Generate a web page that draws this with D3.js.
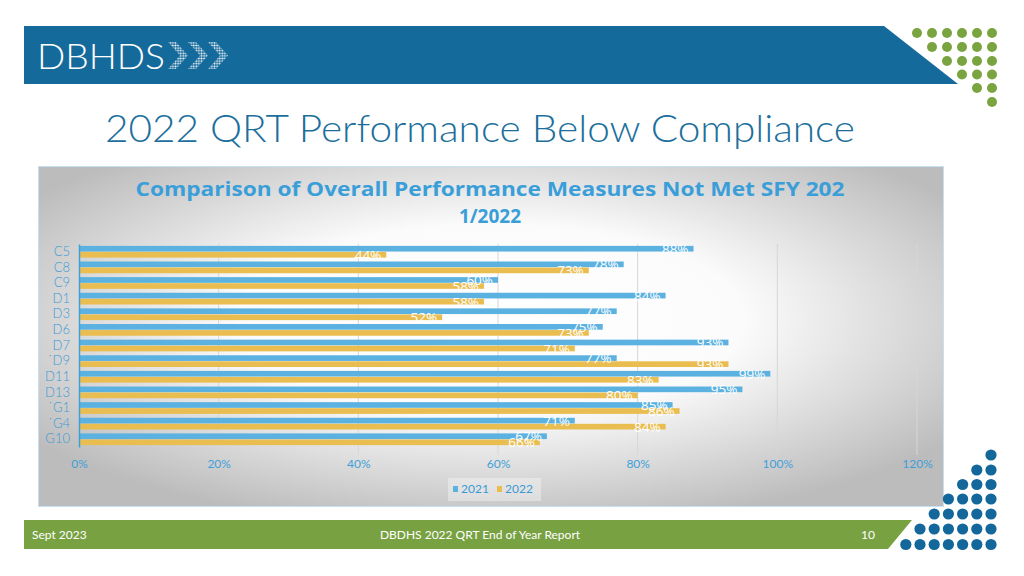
<!DOCTYPE html>
<html><head><meta charset="utf-8">
<script src="https://cdn.jsdelivr.net/npm/d3@7"></script>
<style>
html,body{margin:0;padding:0;background:#fff;}
svg{display:block;}
</style></head>
<body>
<svg id="c" width="1024" height="576"></svg>
<script>
const categories = ["C5","C8","C9","D1","D3","D6","D7","˙D9","D11","D13","˙G1","˙G4","G10"];
const series = ["2021","2022"];
const values2021 = [88,78,60,84,77,75,93,77,99,95,85,71,67];
const values2022 = [44,73,58,58,52,73,71,93,83,80,86,84,66];
const xTicks = [0,20,40,60,80,100,120];
const tickLabels = ["0%","20%","40%","60%","80%","100%","120%"];

const svg = d3.select("#c");
const defs = svg.append("defs");

// ---------- header ----------
svg.append("path").attr("d","M24,26 L884,26 L958,84 L24,84 Z").attr("fill","#156a9c");
svg.append("text").attr("x",37).attr("y",69).attr("fill","#fff")
  .attr("font-family","Lato, sans-serif").attr("font-weight",300)
  .attr("font-size",36).attr("textLength",128).attr("lengthAdjust","spacingAndGlyphs").text("DBHDS");
const pat = defs.append("pattern").attr("id","dots").attr("width",2.6).attr("height",2.6).attr("patternUnits","userSpaceOnUse");
pat.append("circle").attr("cx",1.3).attr("cy",1.3).attr("r",0.95).attr("fill","#fff");
[168,188,208].forEach(x0=>{
  svg.append("path").attr("d",`M${x0},42 L${x0+8},42 L${x0+20},55.5 L${x0+8},69 L${x0},69 L${x0+12},55.5 Z`).attr("fill","url(#dots)");
});
// green dots
const gStart=[917,932,947,962,977,992];
const gy=[33,47,61,74.5,88,102];
gy.forEach((y,r)=>{ for(let x=gStart[r]; x<=993; x+=15){ svg.append("circle").attr("cx",x).attr("cy",y).attr("r",5).attr("fill","#7aa43f"); } });

// title
svg.append("text").attr("x",105).attr("y",142).attr("fill","#1c6f9c")
  .attr("font-family","Lato, sans-serif").attr("font-weight",300).attr("font-size",37)
  .attr("textLength",750).attr("lengthAdjust","spacingAndGlyphs")
  .text("2022 QRT Performance Below Compliance");

// ---------- chart box ----------
const rg = defs.append("radialGradient").attr("id","bg").attr("cx","50%").attr("cy","45%").attr("r","62%");
rg.append("stop").attr("offset","0%").attr("stop-color","#ffffff");
rg.append("stop").attr("offset","45%").attr("stop-color","#fbfbfb");
rg.append("stop").attr("offset","100%").attr("stop-color","#bcbcbc");
svg.append("rect").attr("x",38.5).attr("y",166.5).attr("width",905).attr("height",340)
  .attr("fill","url(#bg)").attr("stroke","#c5e0f2").attr("stroke-width",1);

svg.append("text").attr("x",490).attr("y",196).attr("text-anchor","middle").attr("fill","#3a9ed9")
  .attr("font-family","Open Sans, sans-serif").attr("font-weight",700).attr("font-size",19)
  .attr("textLength",709).attr("lengthAdjust","spacingAndGlyphs")
  .text("Comparison of Overall Performance Measures Not Met SFY 202");
svg.append("text").attr("x",490).attr("y",223).attr("text-anchor","middle").attr("fill","#3a9ed9")
  .attr("font-family","Open Sans, sans-serif").attr("font-weight",700).attr("font-size",19)
  .text("1/2022");

const x = d3.scaleLinear().domain([0,120]).range([79,917]);
const y = d3.scaleBand().domain(categories).range([244,447]).paddingInner(0.25).paddingOuter(0.12);
const ys = d3.scaleBand().domain(series).range([0,y.bandwidth()]).paddingInner(0.06);
const colors = {"2021":"#5bb2e1","2022":"#e9bd4f"};

// gridlines
svg.append("g").selectAll("line").data(xTicks.slice(1)).join("line")
  .attr("x1",d=>x(d)).attr("x2",d=>x(d)).attr("y1",244).attr("y2",455)
  .attr("stroke","#d6d6d6").attr("stroke-width",1);

const rows = categories.map((c,i)=>({c, v:{"2021":values2021[i],"2022":values2022[i]}}));
const g = svg.append("g");
rows.forEach(r=>{
  series.forEach(s=>{
    const yy = y(r.c)+ys(s);
    g.append("rect").attr("x",x(0)).attr("y",yy).attr("width",x(r.v[s])-x(0)).attr("height",ys.bandwidth()).attr("fill",colors[s]);
  });
});
rows.forEach(r=>{
  series.forEach(s=>{
    const yy = y(r.c)+ys(s);
    g.append("text").attr("x",x(r.v[s])-5).attr("y",yy+ys.bandwidth()/2+5).attr("text-anchor","end")
      .attr("fill","#fff").attr("font-family","Open Sans, sans-serif").attr("font-size",13.5).text(r.v[s]+"%");
  });
});

// y axis
const yAxis = svg.append("g").attr("transform",`translate(${x(0)},0)`).call(d3.axisLeft(y).tickSize(0).tickPadding(9));
yAxis.select(".domain").attr("stroke","#3fa0d8").attr("stroke-width",1.5);
yAxis.selectAll("text").attr("fill","#3b9ad6").attr("font-family","Lato, sans-serif").attr("font-weight",300).attr("font-size",13);

// x axis labels
const xAxis = svg.append("g").attr("transform","translate(0,455)").call(d3.axisBottom(x).tickValues(xTicks).tickFormat((d,i)=>tickLabels[i]).tickSize(0).tickPadding(4));
xAxis.select(".domain").remove();
xAxis.selectAll("text").attr("fill","#3fa0d8").attr("font-family","Lato, sans-serif").attr("font-size",12);

// legend
svg.append("rect").attr("x",448).attr("y",478).attr("width",93).attr("height",23).attr("fill","#ffffff").attr("opacity",0.35);
const lg = svg.append("g");
[[453,"2021"],[497,"2022"]].forEach(([lx,s])=>{
  lg.append("rect").attr("x",lx).attr("y",486).attr("width",5).attr("height",6).attr("fill",colors[s]);
  lg.append("text").attr("x",lx+8).attr("y",493).attr("fill","#3b9ad6").attr("font-family","Lato, sans-serif").attr("font-size",12).text(s);
});

// ---------- footer ----------
svg.append("path").attr("d","M24,520 L912,520 L888,549 L24,549 Z").attr("fill","#78a142");
const ft = (tx,anchor,t)=>svg.append("text").attr("x",tx).attr("y",538.5).attr("text-anchor",anchor).attr("fill","#fff")
  .attr("font-family","Lato, sans-serif").attr("font-size",12).text(t);
ft(32,"start","Sept 2023");
ft(480,"middle","DBDHS 2022 QRT End of Year Report");
ft(868,"middle","10");

// blue dots
const by=[455,470,484.5,499,514,529,544.5];
by.forEach((yy,r)=>{ for(let i=0;i<=r;i++){ svg.append("circle").attr("cx",991-i*14.2).attr("cy",yy).attr("r",5.6).attr("fill","#13679a"); } });
</script>
</body></html>
